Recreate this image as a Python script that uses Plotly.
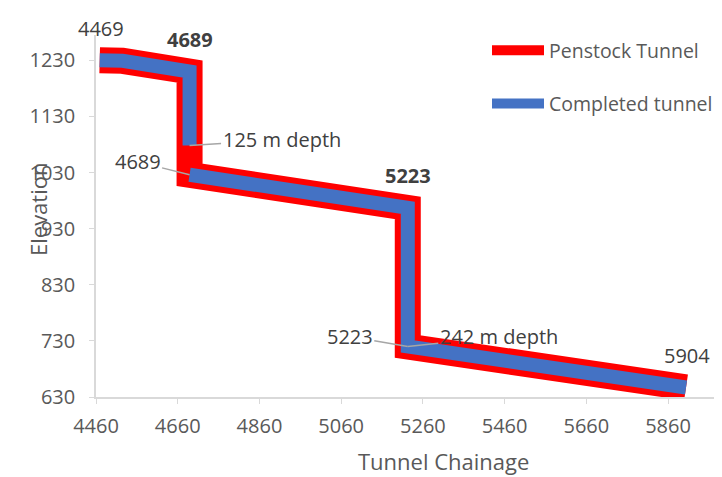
import plotly.graph_objects as go

# ---- data ----
penstock_chainage = [4469, 4525, 4689, 4689, 5223, 5223, 5904]
penstock_elev = [1230, 1229, 1210, 1026, 967, 720, 647]

completed_chainage = [4469, 4525, 4689, 4689, None, 4689, 5223, 5223, 5904]
completed_elev = [1230, 1229, 1210, 1078, None, 1026, 967, 720, 647]

x_ticks = [4460, 4660, 4860, 5060, 5260, 5460, 5660, 5860]
y_ticks = [630, 730, 830, 930, 1030, 1130, 1230]

# labels: (text, x, y)
plain_labels = [("4469", 4469, 1230), ("5904", 5904, 647)]
bold_labels = [("4689", 4689, 1210), ("5223", 5223, 967)]
leader_labels = [
    ("125 m depth", 4689, 1078, 92, -6),
    ("4689", 4689, 1026, -52, -13),
    ("5223", 5223, 720, -58, -10),
    ("242 m depth", 5223, 720, 91, -10),
]

FONT = "Open Sans"
W, H = 714, 469
L, T, B = 88, 27, 80
PW, PH = W - L, H - T - B


def px_to_paper_x(px):
    return (px - 8 - L) / PW


def px_to_paper_y(py):
    return (H - B - (py - 8)) / PH


fig = go.Figure()
fig.add_trace(go.Scatter(x=penstock_chainage, y=penstock_elev, mode="lines",
                         name="Penstock Tunnel", legendgroup="a",
                         line=dict(color="#ff0000", width=26)))
fig.add_trace(go.Scatter(x=completed_chainage, y=completed_elev, mode="lines",
                         name="Completed tunnel", legendgroup="b",
                         line=dict(color="#4472c4", width=14)))

ann = []
for t, x, y in plain_labels:
    ann.append(dict(x=x, y=y, text=t, showarrow=False, yshift=32, xshift=1,
                    font=dict(family=FONT, size=20, color="#404040")))
for t, x, y in bold_labels:
    ann.append(dict(x=x, y=y, text="<b>" + t + "</b>", showarrow=False, yshift=32,
                    font=dict(family=FONT, size=20, color="#404040")))
for t, x, y, ax, ay in leader_labels:
    ann.append(dict(x=x, y=y, text=t, showarrow=True, arrowhead=0, ax=ax, ay=ay,
                    arrowcolor="#a6a6a6", arrowwidth=1.5,
                    font=dict(family=FONT, size=20, color="#404040")))
ann.append(dict(xref="paper", yref="paper", x=px_to_paper_x(443), y=px_to_paper_y(461),
                xanchor="center", yanchor="middle",
                text="Tunnel Chainage", showarrow=False,
                font=dict(family=FONT, size=22, color="#595959")))
ann.append(dict(xref="paper", yref="paper", x=px_to_paper_x(38), y=px_to_paper_y(210),
                xanchor="center", yanchor="middle",
                text="Elevation", showarrow=False, textangle=-90,
                font=dict(family=FONT, size=22, color="#595959")))

fig.update_layout(
    width=W, height=H,
    margin=dict(l=L, r=0, t=T, b=B),
    paper_bgcolor="white", plot_bgcolor="white",
    font=dict(family=FONT, color="#595959"),
    annotations=ann,
    showlegend=True,
    legend=dict(x=px_to_paper_x(487), y=px_to_paper_y(31), xanchor="left", yanchor="top",
                bgcolor="rgba(0,0,0,0)", font=dict(family=FONT, size=19.5, color="#595959"),
                itemwidth=52, tracegroupgap=25, traceorder="grouped", borderwidth=0),
    xaxis=dict(range=[4460, 5992], tickvals=x_ticks, showgrid=False, zeroline=False,
               showline=True, linecolor="#d9d9d9", linewidth=1.5,
               ticks="outside", ticklen=5, tickcolor="#d9d9d9", ticklabelstandoff=5,
               tickfont=dict(family=FONT, size=20, color="#595959")),
    yaxis=dict(range=[630, 1275], tickvals=y_ticks, showgrid=False, zeroline=False,
               showline=True, linecolor="#d9d9d9", linewidth=1.5,
               ticks="outside", ticklen=5, tickcolor="#d9d9d9", ticklabelstandoff=10,
               tickfont=dict(family=FONT, size=20, color="#595959")),
)
fig.write_html("out.html")
